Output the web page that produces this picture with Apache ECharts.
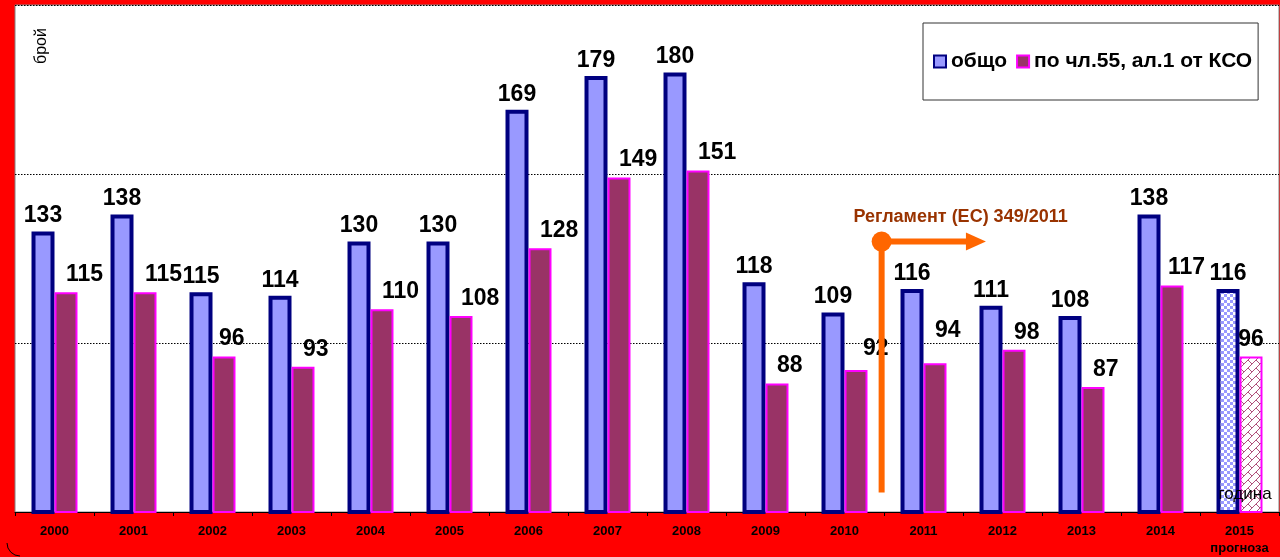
<!DOCTYPE html>
<html>
<head>
<meta charset="utf-8">
<script src="https://cdn.jsdelivr.net/npm/echarts@6/dist/echarts.min.js"></script>
<style>
html,body{margin:0;padding:0;background:#FF0000;}
#c{width:1280px;height:557px;}
</style>
</head>
<body>
<div id="c"></div>
<script>
// ---- data ----
const years = ['2000','2001','2002','2003','2004','2005','2006','2007','2008','2009','2010','2011','2012','2013','2014','2015'];
const yearLabels = ['2000','2001','2002','2003','2004','2005','2006','2007','2008','2009','2010','2011','2012','2013','2014','2015\nпрогноза'];
const totalVals = [133,138,115,114,130,130,169,179,180,118,109,116,111,108,138,116];
const art55Vals = [115,115,96,93,110,108,128,149,151,88,92,94,98,87,117,96];
const seriesNames = ['общо','по чл.55, ал.1 от КСО'];
const forecastYear = '2015';
const regulationText = 'Регламент (ЕС) 349/2011';
// annotation anchor in data units (category index, value)
const regAnchor = {cat: 10.47, top: 130, bottom: 55.8, tipCat: 11.79, textCat: 11.47, textVal: 137.4};

const FONT = '"Liberation Sans", Arial, sans-serif';

function checker(){
  const c = document.createElement('canvas'); c.width = 6; c.height = 6;
  const g = c.getContext('2d');
  g.fillStyle = '#ffffff'; g.fillRect(0,0,6,6);
  g.fillStyle = '#9999FF'; g.fillRect(0,0,3,3); g.fillRect(3,3,3,3);
  return {image: c, repeat: 'repeat'};
}
function trellis(){
  const c = document.createElement('canvas'); c.width = 8; c.height = 8;
  const g = c.getContext('2d');
  g.fillStyle = '#ffffff'; g.fillRect(0,0,8,8);
  g.strokeStyle = '#B0507A'; g.lineWidth = 1;
  g.beginPath(); g.moveTo(0,8); g.lineTo(8,0); g.moveTo(0,0); g.lineTo(4,4); g.stroke();
  return {image: c, repeat: 'repeat'};
}

const labelBase = {show: true, position: 'top', color: '#000', fontFamily: FONT, fontWeight: 'bold', fontSize: 23};

const totalData = totalVals.map((v, i) => {
  const d = {value: v};
  if (years[i] === forecastYear) d.itemStyle = {color: checker()};
  return d;
});
const art55LabelTweaks = {
  '2002': {offset: [-5, 0]},
  '2010': {offset: [7, -4]},
  '2011': {offset: [0, -15]},
  '2014': {offset: [-4, 0]},
  '2015': {align: 'center', distance: 5}
};
const art55Data = art55Vals.map((v, i) => {
  const d = {value: v};
  if (years[i] === forecastYear) d.itemStyle = {color: trellis()};
  if (art55LabelTweaks[years[i]]) d.label = art55LabelTweaks[years[i]];
  return d;
});

const chart = echarts.init(document.getElementById('c'), null, {renderer: 'canvas'});
const option = {
  backgroundColor: '#FF0000',
  animation: false,
  textStyle: {fontFamily: FONT},
  grid: {left: 15, right: 1, top: 5, bottom: 40, show: true, backgroundColor: '#ffffff', borderColor: '#808080', borderWidth: 1},
  legend: {
    left: 923, top: 23,
    padding: [28, 6, 28, 10],
    backgroundColor: '#ffffff', borderColor: '#333', borderWidth: 1, borderRadius: 0,
    itemWidth: 12, itemHeight: 12, itemGap: 9,
    icon: 'rect',
    textStyle: {fontFamily: FONT, fontWeight: 'bold', fontSize: 21, color: '#000', padding: [0,0,0,0]},
    data: [
      {name: seriesNames[0], itemStyle: {borderWidth: 2, color: '#9999FF', borderColor: '#000080'}},
      {name: seriesNames[1], itemStyle: {borderWidth: 2, color: '#993366', borderColor: '#FF00FF'}}
    ]
  },
  xAxis: {
    type: 'category', data: yearLabels,
    axisLine: {lineStyle: {color: '#000', width: 1}},
    axisTick: {show: true, length: 4, lineStyle: {color: '#000'}},
    axisLabel: {color: '#000', fontFamily: FONT, fontWeight: 'bold', fontSize: 13, margin: 11, lineHeight: 17}
  },
  yAxis: {
    type: 'value', min: 50, max: 200, interval: 50,
    axisLabel: {show: false}, axisLine: {show: false}, axisTick: {show: false},
    splitLine: {show: true, lineStyle: {color: '#000', type: [1.5, 1.5], width: 1}}
  },
  series: [
    {
      name: seriesNames[0], type: 'bar', data: totalData,
      barGap: '0%', barCategoryGap: '41.8%',
      itemStyle: {color: '#9999FF', borderColor: '#000080', borderWidth: 4},
      label: Object.assign({}, labelBase, {distance: 4})
    },
    {
      name: seriesNames[1], type: 'bar', data: art55Data,
      itemStyle: {color: '#993366', borderColor: '#FF00FF', borderWidth: 2},
      label: Object.assign({}, labelBase, {align: 'left', distance: 6})
    }
  ]
};
chart.setOption(option);

// annotation + axis names
function px(cat, val){
  const p0 = chart.convertToPixel({gridIndex: 0}, [0, val]);
  const p1 = chart.convertToPixel({gridIndex: 0}, [1, val]);
  const bw = p1[0] - p0[0];
  return [p0[0] + cat * bw, p0[1]];
}
const pTop = px(regAnchor.cat, regAnchor.top);
const pBot = px(regAnchor.cat, regAnchor.bottom);
const pTip = px(regAnchor.tipCat, regAnchor.top);
const pTxt = px(regAnchor.textCat, regAnchor.textVal);
const orange = '#FF6600';
chart.setOption({
  graphic: [
    {type: 'line', z: 100, shape: {x1: pTop[0], y1: pTop[1], x2: pBot[0], y2: pBot[1]}, style: {stroke: orange, lineWidth: 6}},
    {type: 'line', z: 100, shape: {x1: pTop[0], y1: pTop[1], x2: pTip[0] - 16, y2: pTip[1]}, style: {stroke: orange, lineWidth: 6}},
    {type: 'polygon', z: 100, shape: {points: [[pTip[0], pTip[1]], [pTip[0] - 20, pTip[1] - 9], [pTip[0] - 20, pTip[1] + 9]]}, style: {fill: orange}},
    {type: 'circle', z: 101, shape: {cx: pTop[0], cy: pTop[1], r: 10}, style: {fill: orange}},
    {type: 'text', z: 100, x: pTxt[0], y: pTxt[1], style: {text: regulationText, fill: '#993300', font: 'bold 18px ' + FONT, textAlign: 'center', textVerticalAlign: 'middle'}},
    {type: 'text', z: 100, x: 42, y: 46, rotation: Math.PI / 2, style: {text: 'брой', fill: '#000', font: '16px ' + FONT, textAlign: 'center', textVerticalAlign: 'middle'}},
    {type: 'text', z: 100, x: 1245, y: 494, style: {text: 'година', fill: '#000', font: '17px ' + FONT, textAlign: 'center', textVerticalAlign: 'middle'}},
    {type: 'arc', z: 100, shape: {cx: 20, cy: 543, r: 13, startAngle: Math.PI / 2, endAngle: Math.PI, clockwise: true}, style: {stroke: '#000', lineWidth: 1, fill: null}}
  ]
});
</script>
</body>
</html>
